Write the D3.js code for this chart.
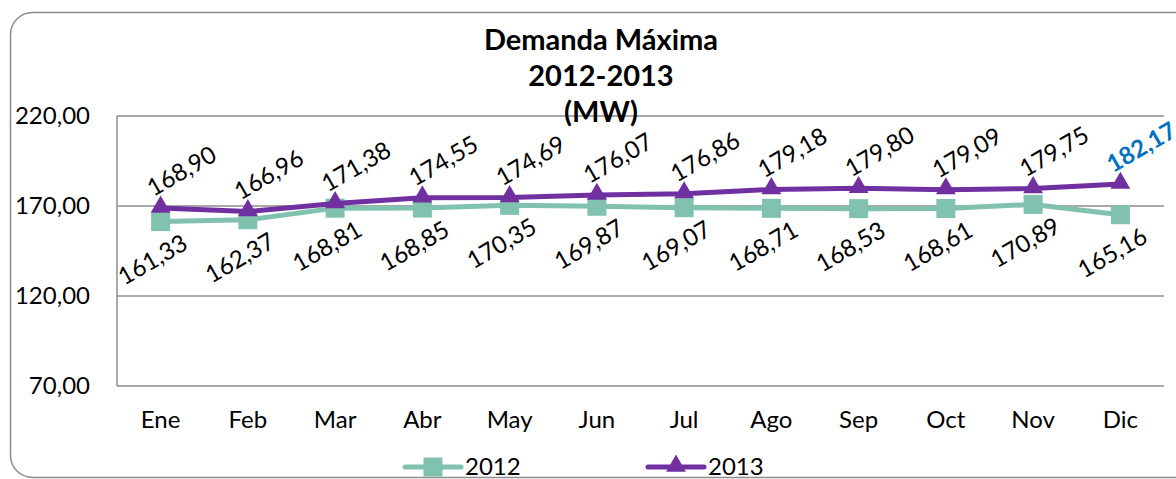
<!DOCTYPE html>
<html>
<head>
<meta charset="utf-8">
<script src="https://cdn.jsdelivr.net/npm/d3@7"></script>
<style>
  body { margin: 0; background: #fff; }
  svg { display: block; font-family: Lato, "Open Sans", sans-serif; }
</style>
</head>
<body>
<svg id="chart" width="1176" height="479"></svg>
<script>
// data
var meses = ["Ene", "Feb", "Mar", "Abr", "May", "Jun", "Jul", "Ago", "Sep", "Oct", "Nov", "Dic"];
var d2012 = [161.33, 162.37, 168.81, 168.85, 170.35, 169.87, 169.07, 168.71, 168.53, 168.61, 170.89, 165.16];
var d2013 = [168.90, 166.96, 171.38, 174.55, 174.69, 176.07, 176.86, 179.18, 179.80, 179.09, 179.75, 182.17];
var yTicks = [70, 120, 170, 220];
var titulo = ["Demanda Máxima", "2012-2013", "(MW)"];

var svg = d3.select("#chart");
var mLeft = 117, mRight = 1164, mTop = 116, mBottom = 386;

var fmt = function(v) { return d3.format(".2f")(v).replace(".", ","); };

// outer frame
svg.append("rect")
  .attr("x", 10.5).attr("y", 12.5)
  .attr("width", 1190).attr("height", 465)
  .attr("rx", 22).attr("ry", 22)
  .attr("fill", "none").attr("stroke", "#8c8c8c").attr("stroke-width", 1.5);

var x = d3.scaleBand().domain(meses).range([mLeft, mRight]);
var y = d3.scaleLinear().domain([70, 220]).range([mBottom, mTop]);

// gridlines
svg.append("g").selectAll("line").data(yTicks).enter()
  .append("line")
  .attr("x1", mLeft).attr("x2", mRight)
  .attr("y1", function(d) { return y(d); }).attr("y2", function(d) { return y(d); })
  .attr("stroke", "#8c8c8c").attr("stroke-width", 1.5);

svg.append("line")
  .attr("x1", mLeft).attr("x2", mLeft).attr("y1", mTop).attr("y2", mBottom)
  .attr("stroke", "#8c8c8c").attr("stroke-width", 1.5);

// y axis labels
svg.append("g").selectAll("text").data(yTicks).enter()
  .append("text")
  .attr("x", 90).attr("y", function(d) { return y(d); })
  .attr("dy", "0.35em").attr("text-anchor", "end")
  .style("font-size", "24px").attr("fill", "#000")
  .text(fmt);

// x axis labels
svg.append("g").selectAll("text").data(meses).enter()
  .append("text")
  .attr("x", function(d) { return x(d) + x.bandwidth() / 2; })
  .attr("y", 420).attr("dy", "0.35em").attr("text-anchor", "middle")
  .style("font-size", "24px").attr("fill", "#000")
  .text(function(d) { return d; });

// title
svg.append("g").selectAll("text").data(titulo).enter()
  .append("text")
  .attr("x", 601).attr("y", function(d, i) { return 40 + i * 36; })
  .attr("dy", "0.35em").attr("text-anchor", "middle")
  .style("font-size", "29px").style("font-weight", "bold")
  .text(function(d) { return d; });

var cx = function(d, i) { return x(meses[i]) + x.bandwidth() / 2; };
var line = d3.line().x(cx).y(function(d) { return y(d); });

var c2012 = "#80c1b0", c2013 = "#7030a0";

svg.append("path").datum(d2012)
  .attr("d", line).attr("fill", "none")
  .attr("stroke", c2012).attr("stroke-width", 5).attr("stroke-linejoin", "round");

svg.append("g").selectAll("rect").data(d2012).enter()
  .append("rect")
  .attr("x", function(d, i) { return cx(d, i) - 9.5; })
  .attr("y", function(d) { return y(d) - 9.5; })
  .attr("width", 19).attr("height", 19)
  .attr("fill", c2012);

svg.append("path").datum(d2013)
  .attr("d", line).attr("fill", "none")
  .attr("stroke", c2013).attr("stroke-width", 5).attr("stroke-linejoin", "round");

var tri = d3.symbol().type(d3.symbolTriangle).size(170);
svg.append("g").selectAll("path").data(d2013).enter()
  .append("path")
  .attr("d", tri)
  .attr("transform", function(d, i) { return "translate(" + cx(d, i) + "," + (y(d) - 1) + ")"; })
  .attr("fill", c2013);

// data labels
svg.append("g").selectAll("text").data(d2012).enter()
  .append("text")
  .attr("transform", function(d, i) { return "translate(" + (cx(d, i) - 8) + "," + (y(d) + 38) + ") rotate(-30)"; })
  .attr("dy", "0.35em").attr("text-anchor", "middle")
  .style("font-size", "24px")
  .text(fmt);

svg.append("g").selectAll("text").data(d2013).enter()
  .append("text")
  .attr("transform", function(d, i) { return "translate(" + (cx(d, i) + 21) + "," + (y(d) - 37) + ") rotate(-30)"; })
  .attr("dy", "0.35em").attr("text-anchor", "middle")
  .style("font-size", "24px")
  .style("font-weight", function(d, i) { return i === 11 ? "bold" : "normal"; })
  .attr("fill", function(d, i) { return i === 11 ? "#0070c0" : "#000"; })
  .text(fmt);

// legend
var leg = [
  { name: "2012", color: c2012, x: 405, sym: "sq" },
  { name: "2013", color: c2013, x: 648, sym: "tri" }
];
var lg = svg.append("g").selectAll("g").data(leg).enter().append("g");
lg.append("line")
  .attr("x1", function(d) { return d.x; }).attr("x2", function(d) { return d.x + 56; })
  .attr("y1", 467).attr("y2", 467)
  .attr("stroke", function(d) { return d.color; }).attr("stroke-width", 5).attr("stroke-linecap", "round");
lg.filter(function(d) { return d.sym === "sq"; }).append("rect")
  .attr("x", function(d) { return d.x + 28 - 9.5; }).attr("y", 467 - 9.5)
  .attr("width", 19).attr("height", 19)
  .attr("fill", function(d) { return d.color; });
lg.filter(function(d) { return d.sym === "tri"; }).append("path")
  .attr("d", tri)
  .attr("transform", function(d) { return "translate(" + (d.x + 28) + "," + 466 + ")"; })
  .attr("fill", function(d) { return d.color; });
lg.append("text")
  .attr("x", function(d) { return d.x + 60; }).attr("y", 467).attr("dy", "0.35em")
  .style("font-size", "24px")
  .text(function(d) { return d.name; });
</script>
</body>
</html>
